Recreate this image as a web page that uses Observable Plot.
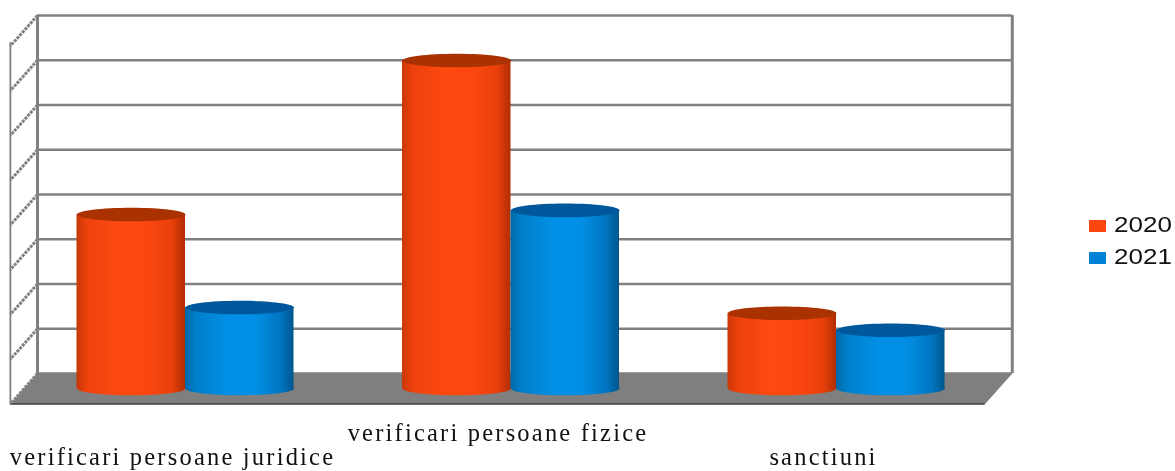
<!DOCTYPE html>
<html><head><meta charset="utf-8">
<script src="https://cdn.jsdelivr.net/npm/d3@7"></script>
<script src="https://cdn.jsdelivr.net/npm/@observablehq/plot@0.6"></script>
<style>
html,body{margin:0;padding:0;background:#fff;overflow:hidden}
#wrap{position:relative;width:1175px;height:471px}
#wrap svg{filter:blur(0.5px)}
.cat{letter-spacing:2.2px}
#legend{position:absolute;left:1089px;top:209px;font:21.5px "Liberation Sans",Arial,sans-serif;color:#111;filter:blur(.3px)}
#legend div{height:31.5px;line-height:32px;white-space:nowrap}
#legend i{display:inline-block;width:17px;height:12px;margin-right:8px;vertical-align:0}
#legend span{display:inline-block;transform:scaleX(1.21);transform-origin:left center}
</style></head><body><div id="wrap"><div id="chart"></div><div id="legend"></div></div>
<script>
const categories = ["verificari persoane juridice","verificari persoane fizice","sanctiuni"];
const years = ["2020","2021"];
const values2020 = [3.89, 7.33, 1.68];
const values2021 = [1.81, 3.98, 1.30];
const gridLines = [0,1,2,3,4,5,6,7,8];
const colors = {"2020":"#fb4610","2021":"#0083d7"};

// layout of the pseudo-3D box, in axis units
const wallLeft = 0.136, wallRight = 9.12, depthX = 0.25, depthY = 0.68, baseY = -0.335;
const ellipseSymbol = {draw(c, size){
  const rx = Math.sqrt(size/Math.PI), ry = rx*0.125, k = 0.5523;
  c.moveTo(-rx,0);
  c.bezierCurveTo(-rx,-ry*k,-rx*k,-ry,0,-ry);
  c.bezierCurveTo(rx*k,-ry,rx,-ry*k,rx,0);
  c.bezierCurveTo(rx,ry*k,rx*k,ry,0,ry);
  c.bezierCurveTo(-rx*k,ry,-rx,ry*k,-rx,0);
  c.closePath();
}};

const rows = years.flatMap((y,j)=>categories.map((c,i)=>({
  year:y, cat:c, left:3*i+0.5+j, right:3*i+1.5+j, mid:3*i+1+j,
  top:baseY+(j===0?values2020:values2021)[i]
})));
const labels = categories.map((c,i)=>({name:c, x:3*i+1.5}));

const defs = () => {
  const ns="http://www.w3.org/2000/svg";
  const d=document.createElementNS(ns,"defs");
  const stops={"2020":["#c83808","#ee410d","#fd4a10","#fc4610","#e8400b","#b02e02"],
               "2021":["#0068aa","#007fca","#0090e6","#008fe4","#0076c0","#00558e"]};
  for(const y of years){
    const g=document.createElementNS(ns,"linearGradient");
    g.setAttribute("id","g"+y);
    stops[y].forEach((col,i)=>{
      const s=document.createElementNS(ns,"stop");
      s.setAttribute("offset",[0,.1,.4,.65,.88,1][i]);
      s.setAttribute("stop-color",col); g.appendChild(s);
    });
    d.appendChild(g);
  }
  return d;
};
const topColor={"2020":"#a93200","2021":"#00589c"};
const floor=[{x:wallLeft,y:0},{x:wallRight,y:0},{x:wallRight-depthX,y:-depthY},{x:wallLeft-depthX,y:-depthY}];
const labelFont={x:"x",y:0,text:"name",className:"cat",fontFamily:"Liberation Serif",fontSize:24.5,fill:"#111"};

const plot = Plot.plot({
  width:1175,height:471,margin:0,
  x:{type:"linear",domain:[0,9],range:[22.25,998.75],axis:null},
  y:{type:"linear",domain:[0,8],range:[373,15],axis:null},
  marks:[
    defs,
    Plot.line(floor,{x:"x",y:"y",fill:"#7f7f7f",stroke:"none"}),
    Plot.ruleY([-depthY],{x1:wallLeft-depthX,x2:wallRight-depthX,stroke:"#3c3c3c",strokeWidth:1.5}),
    Plot.ruleY(gridLines,{x1:wallLeft,x2:wallRight,stroke:"#808080",strokeWidth:2.6}),
    Plot.ruleX([wallLeft,wallRight],{y1:0,y2:8,stroke:"#808080",strokeWidth:3}),
    Plot.ruleX([wallLeft-depthX],{y1:-depthY,y2:8-depthY+0.07,stroke:"#808080",strokeWidth:1.8}),
    Plot.link(gridLines,{x1:wallLeft,y1:d=>d,x2:wallLeft-depthX,y2:d=>d-depthY,stroke:"#808080",strokeWidth:3,strokeDasharray:"3 1"}),
    ...years.flatMap(y=>{
      const r=rows.filter(d=>d.year===y);
      return [
        Plot.dot(r,{x:"mid",y:baseY,r:54.2,symbol:ellipseSymbol,fill:`url(#g${y})`,stroke:"none"}),
        Plot.rect(r,{x1:"left",x2:"right",y1:baseY,y2:"top",fill:`url(#g${y})`,inset:0}),
        Plot.dot(r,{x:"mid",y:"top",r:54.2,symbol:ellipseSymbol,fill:topColor[y],stroke:"none"})
      ];
    }),
    Plot.text(labels.filter((d,i)=>i===1),{...labelFont,dx:-13,dy:60}),
    Plot.text(labels.filter((d,i)=>i!==1),{...labelFont,dx:-13,dy:84})
  ]
});
document.getElementById("chart").appendChild(plot);
const lg=d3.select("#legend").selectAll("div").data(years).join("div");
lg.append("i").style("background",d=>colors[d]);
lg.append("span").text(d=>d);
</script></body></html>
